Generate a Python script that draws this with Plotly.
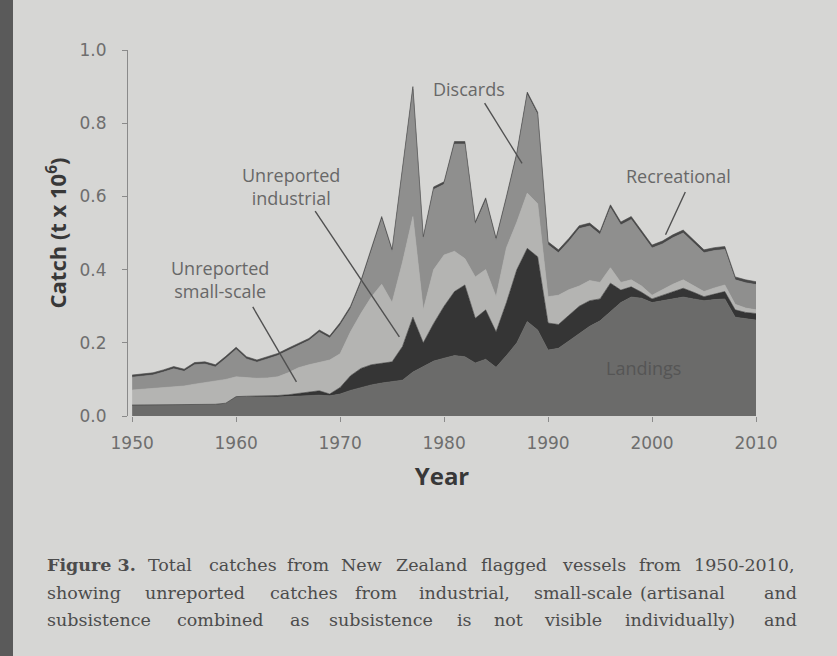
import plotly.graph_objects as go

years = list(range(1950, 2011))

landings = [0.030, 0.030, 0.030, 0.030, 0.030, 0.030, 0.031, 0.031, 0.032, 0.035,
            0.053, 0.053, 0.052, 0.052, 0.052, 0.053, 0.054, 0.056, 0.057, 0.055,
            0.060, 0.070, 0.078, 0.085, 0.090, 0.093, 0.098, 0.120, 0.135, 0.150,
            0.158, 0.165, 0.162, 0.145, 0.155, 0.133, 0.165, 0.200, 0.258, 0.235,
            0.180, 0.185, 0.205, 0.225, 0.245, 0.260, 0.285, 0.310, 0.325, 0.322,
            0.310, 0.315, 0.320, 0.325, 0.320, 0.315, 0.318, 0.320, 0.270, 0.265,
            0.262]

unreported_industrial = [0.000, 0.000, 0.000, 0.000, 0.000, 0.000, 0.000, 0.000, 0.000, 0.000,
                         0.000, 0.001, 0.002, 0.003, 0.004, 0.005, 0.008, 0.011, 0.012, 0.005,
                         0.018, 0.040, 0.052, 0.055, 0.055, 0.055, 0.092, 0.150, 0.065, 0.103,
                         0.142, 0.175, 0.196, 0.122, 0.135, 0.097, 0.145, 0.200, 0.200, 0.200,
                         0.074, 0.065, 0.070, 0.075, 0.070, 0.060, 0.078, 0.034, 0.028, 0.016,
                         0.010, 0.015, 0.020, 0.024, 0.018, 0.011, 0.015, 0.020, 0.020, 0.018,
                         0.018]

unreported_small_scale = [0.041, 0.043, 0.045, 0.046, 0.050, 0.052, 0.056, 0.060, 0.063, 0.065,
                          0.054, 0.051, 0.049, 0.049, 0.051, 0.060, 0.070, 0.073, 0.077, 0.093,
                          0.092, 0.120, 0.150, 0.185, 0.215, 0.162, 0.230, 0.275, 0.090, 0.147,
                          0.140, 0.110, 0.072, 0.113, 0.110, 0.096, 0.150, 0.130, 0.151, 0.145,
                          0.072, 0.080, 0.070, 0.055, 0.055, 0.045, 0.042, 0.021, 0.019, 0.017,
                          0.010, 0.015, 0.020, 0.023, 0.018, 0.014, 0.017, 0.018, 0.015, 0.012,
                          0.010]

discards = [0.035, 0.035, 0.037, 0.044, 0.049, 0.040, 0.053, 0.051, 0.039, 0.057,
            0.075, 0.051, 0.044, 0.052, 0.058, 0.061, 0.060, 0.066, 0.083, 0.060,
            0.078, 0.063, 0.083, 0.128, 0.178, 0.138, 0.243, 0.348, 0.193, 0.219,
            0.193, 0.293, 0.313, 0.143, 0.189, 0.153, 0.133, 0.183, 0.269, 0.243,
            0.142, 0.116, 0.132, 0.157, 0.149, 0.131, 0.164, 0.157, 0.165, 0.142,
            0.129, 0.125, 0.127, 0.128, 0.116, 0.106, 0.102, 0.097, 0.067, 0.069,
            0.069]

recreational = [0.006] * 20 + [0.007] * 20 + [0.008] * 21

series = [
    ("Landings", landings, "#6b6b6a"),
    ("Unreported industrial", unreported_industrial, "#353535"),
    ("Unreported small-scale", unreported_small_scale, "#b4b4b2"),
    ("Discards", discards, "#8f8f8e"),
    ("Recreational", recreational, "#484848"),
]

x_ticks = [1950, 1960, 1970, 1980, 1990, 2000, 2010]
y_ticks = [0.0, 0.2, 0.4, 0.6, 0.8, 1.0]
y_tick_labels = ["0.0", "0.2", "0.4", "0.6", "0.8", "1.0"]

caption_line1 = ["<b>Figure 3.</b>", "Total", "catches", "from", "New", "Zealand", "flagged",
                 "vessels", "from", "1950-2010,"]
caption_line2 = ["showing", "unreported", "catches", "from", "industrial,", "small-scale",
                 "(artisanal", "and"]
caption_line3 = ["subsistence", "combined", "as", "subsistence", "is", "not", "visible",
                 "individually)", "and"]

fig = go.Figure()
for name, vals, col in series:
    fig.add_trace(go.Scatter(
        x=years, y=vals, name=name, mode="lines", stackgroup="one",
        line=dict(color=col, width=0.6), fillcolor=col, hoverinfo="skip"))

W, H = 837, 656
L_PX, R_PX, T_PX, B_PX = 128, 756, 50, 416


def px(xp, yp):
    return (xp - L_PX) / (R_PX - L_PX), (B_PX - yp) / (B_PX - T_PX)


label_col = "#686868"
lf = dict(family="Open Sans", size=18, color=label_col)

# category labels
fig.add_annotation(x=1982.4, y=0.893, text="Discards", showarrow=False, font=lf)
fig.add_annotation(x=1965.3, y=0.628, text="Unreported<br>industrial", showarrow=False, font=lf)
fig.add_annotation(x=1958.4, y=0.372, text="Unreported<br>small-scale", showarrow=False, font=lf)
fig.add_annotation(x=2002.5, y=0.656, text="Recreational", showarrow=False, font=lf)
fig.add_annotation(x=1999.2, y=0.131, text="Landings", showarrow=False,
                   font=dict(family="Open Sans", size=18, color="#555555"))

# leader lines
leaders = [((1983.9, 0.855), (1987.5, 0.69)),
           ((1967.6, 0.56), (1975.7, 0.216)),
           ((1961.6, 0.298), (1965.8, 0.093)),
           ((2003.2, 0.612), (2001.3, 0.495))]
for (xa, ya), (xb, yb) in leaders:
    fig.add_shape(type="line", xref="x", yref="y", x0=xa, y0=ya, x1=xb, y1=yb,
                  line=dict(color="#505050", width=1.4), layer="above")

# caption, word by word (justified like the reference)
cap_font = dict(family="DejaVu Serif", size=17.5, color="#4c4c4c")
line1_x = [45, 146, 207, 285, 339, 394, 479, 560, 637, 692]
line2_x = [45, 143, 268, 353, 417, 532, 638, 762]
line3_x = [45, 175, 288, 327, 455, 492, 542, 623, 762]
for words, xs, yp in [(caption_line1, line1_x, 565), (caption_line2, line2_x, 593),
                      (caption_line3, line3_x, 620)]:
    for w, xp in zip(words, xs):
        a, b = px(xp, yp)
        fig.add_annotation(x=a, y=b, xref="paper", yref="paper", xanchor="left", yanchor="middle",
                           text=w, showarrow=False, font=cap_font)

# dark photo edge on the left
fig.add_shape(type="rect", xref="paper", yref="paper",
              x0=px(0, 0)[0], x1=px(13, 0)[0], y0=px(0, 656)[1], y1=px(0, 0)[1],
              fillcolor="#5a5a5a", line=dict(width=0), layer="above")

fig.update_layout(
    width=W, height=H,
    margin=dict(l=L_PX, r=W - R_PX, t=T_PX, b=H - B_PX),
    paper_bgcolor="#d6d6d4", plot_bgcolor="#d6d6d4",
    showlegend=False,
    font=dict(family="DejaVu Sans", color="#777777"),
    xaxis=dict(range=[1949.6, 2010.0], tickvals=x_ticks, ticks="outside", ticklen=5,
               tickcolor="#8a8a8a", showgrid=False, zeroline=False, showline=False,
               tickfont=dict(family="DejaVu Sans", size=17, color="#6e6e6e"), ticklabelstandoff=7,
               title=dict(text="<b>Year</b>", font=dict(family="Open Sans", size=24, color="#383838"),
                          standoff=15)),
    yaxis=dict(range=[0, 1.0], tickvals=y_ticks, ticktext=y_tick_labels, ticks="outside", ticklen=5,
               tickcolor="#8a8a8a", showgrid=False, zeroline=False, showline=True,
               linecolor="#8a8a8a", linewidth=1,
               tickfont=dict(family="DejaVu Sans", size=17, color="#6e6e6e"), ticklabelstandoff=12,
               title=dict(text="<b>Catch (t x 10<sup>6</sup>)</b>",
                          font=dict(family="Open Sans", size=22, color="#383838"), standoff=6)),
)

fig.write_html("out.html", config={"displayModeBar": False},
               post_script="document.body.style.margin='0';")
